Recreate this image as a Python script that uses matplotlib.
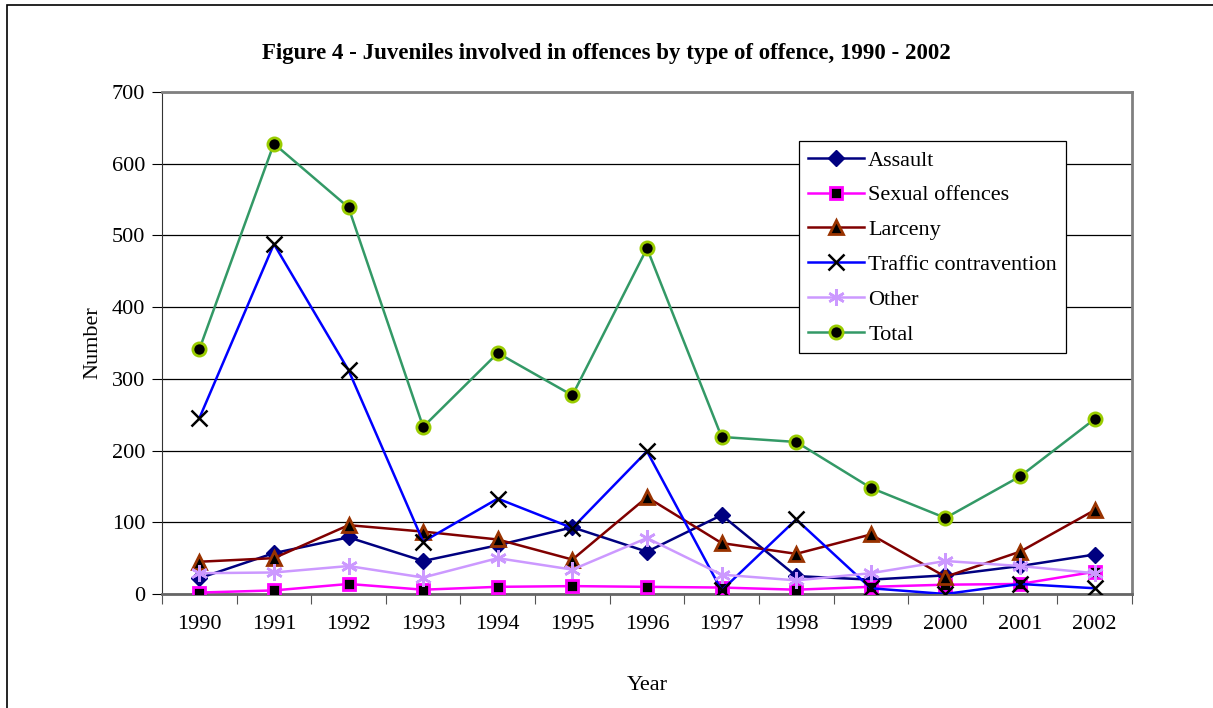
import numpy as np
import matplotlib.pyplot as plt
from matplotlib.patches import Rectangle

plt.rcParams['font.family'] = ['Liberation Serif', 'DejaVu Serif']

years = ['1990', '1991', '1992', '1993', '1994', '1995', '1996',
         '1997', '1998', '1999', '2000', '2001', '2002']
assault = [22, 57, 79, 46, 68, 93, 59, 110, 25, 20, 26, 39, 55]
sexual = [2, 5, 14, 6, 10, 11, 10, 9, 6, 10, 13, 14, 31]
larceny = [45, 50, 96, 87, 76, 48, 135, 71, 56, 83, 24, 59, 117]
traffic = [245, 488, 312, 73, 133, 92, 199, 5, 104, 8, 0, 14, 8]
other = [29, 30, 39, 23, 50, 34, 78, 27, 19, 29, 46, 39, 29]
total = [341, 628, 539, 233, 336, 277, 482, 219, 212, 148, 106, 164, 244]

fig = plt.figure(figsize=(12.13, 7.08), dpi=100)
ax = fig.add_axes([162 / 1213, 1 - 594 / 708, 970 / 1213, 502 / 708])

# outer chart frame (right/bottom run off the image)
fig.patches.append(Rectangle((7 / 1213, -0.05), 1.2, 1 - 5 / 708 + 0.05,
                             transform=fig.transFigure, fill=False,
                             edgecolor='black', lw=1.2))

x = np.arange(len(years))
lw = 1.8
ax.plot(x, assault, color='#000080', lw=lw, marker='D', ms=8.5,
        mfc='#000080', mec='#000080', label='Assault', zorder=3)
ax.plot(x, sexual, color='#FF00FF', lw=lw, marker='s', ms=8.5,
        mfc='black', mec='#FF00FF', mew=2, label='Sexual offences', zorder=3)
ax.plot(x, larceny, color='#800000', lw=lw, marker='^', ms=9.5,
        mfc='black', mec='#993300', mew=2, label='Larceny', zorder=3)
ax.plot(x, traffic, color='#0000FF', lw=lw, marker='x', ms=11,
        mec='black', mew=1.8, label='Traffic contravention', zorder=3)
ax.plot(x, other, color='#CC99FF', lw=lw, marker=(6, 2, 0), ms=12,
        mec='#CC99FF', mew=1.8, label='Other', zorder=3)
ax.plot(x, total, color='#339966', lw=lw, marker='o', ms=9.5,
        mfc='black', mec='#99CC00', mew=2, label='Total', zorder=3)

ax.set_xlim(-0.5, len(years) - 0.5)
ax.set_ylim(0, 700)
ax.set_yticks(np.arange(0, 701, 100))
ax.yaxis.grid(True, color='black', lw=0.9)
ax.set_axisbelow(True)

ax.set_xticks(np.arange(-0.5, len(years)), labels=[])
ax.set_xticks(x, labels=years, minor=True)
ax.tick_params(axis='x', which='minor', length=0, pad=15, labelsize=16)
ax.tick_params(axis='x', which='major', length=7, direction='out', color='#555555')
ax.tick_params(axis='y', length=7, direction='out', labelsize=16, pad=5)

for s in ['top', 'right']:
    ax.spines[s].set_color('#808080')
    ax.spines[s].set_linewidth(2)
ax.spines['left'].set_color('#333333')
ax.spines['bottom'].set_color('#666666')
ax.spines['bottom'].set_linewidth(2)

ax.set_xlabel('Year', fontsize=16, labelpad=30)
ax.set_ylabel('Number', fontsize=16, labelpad=7)
fig.text(0.5, 1 - 53 / 708, 'Figure 4 - Juveniles involved in offences by type of offence, 1990 - 2002',
         ha='center', va='center', fontsize=16.5, fontweight='bold')

leg = ax.legend(loc='upper left', bbox_to_anchor=(0.657, 0.902), fontsize=16,
                frameon=True, fancybox=False, edgecolor='black', framealpha=1,
                handlelength=2.5, borderpad=0.4, labelspacing=0.64, handletextpad=0.2,
                borderaxespad=0)
leg.get_frame().set_linewidth(0.9)

fig.savefig('out.png', dpi=100)
